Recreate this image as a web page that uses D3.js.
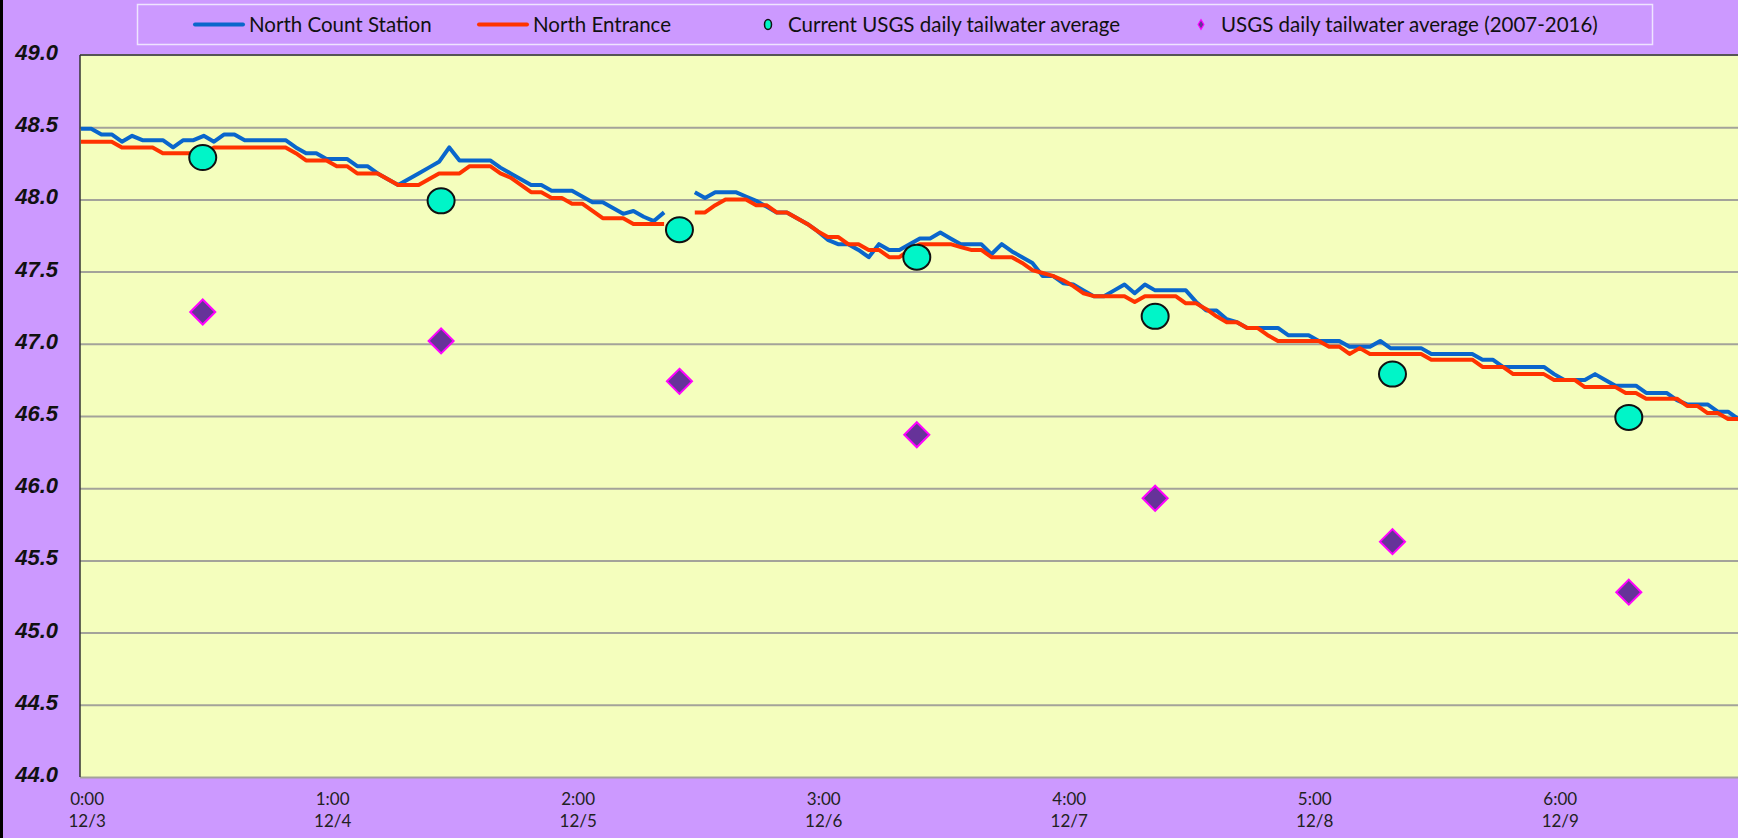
<!DOCTYPE html>
<html>
<head>
<meta charset="utf-8">
<script src="https://cdn.jsdelivr.net/npm/d3@7"></script>
<style>
  html, body { margin: 0; padding: 0; background: #cc99ff; overflow: hidden; }
  svg { display: block; }
</style>
</head>
<body>
<div id="chart-area"></div>
<script>
/*
*    tailwater chart
*/

// hourly readings, index = hours since 0:00 12/3 (null = missing)
var northCount = [
    48.49, 48.49, 48.45, 48.45, 48.40, 48.44, 48.41, 48.41, 48.41, 48.36,
    48.41, 48.41, 48.44, 48.40, 48.45, 48.45, 48.41, 48.41, 48.41, 48.41,
    48.41, 48.36, 48.32, 48.32, 48.28, 48.28, 48.28, 48.23, 48.23, 48.18,
    48.14, 48.10, 48.14, 48.18, 48.22, 48.26, 48.36, 48.27, 48.27, 48.27,
    48.27, 48.22, 48.18, 48.14, 48.10, 48.10, 48.06, 48.06, 48.06, 48.02,
    47.98, 47.98, 47.94, 47.90, 47.92, 47.88, 47.85, 47.91, null, null,
    48.05, 48.01, 48.05, 48.05, 48.05, 48.02, 47.99, 47.95, 47.91, 47.91,
    47.87, 47.83, 47.78, 47.72, 47.69, 47.69, 47.65, 47.60, 47.69, 47.65,
    47.65, 47.69, 47.73, 47.73, 47.77, 47.73, 47.69, 47.69, 47.69, 47.62,
    47.69, 47.64, 47.60, 47.56, 47.47, 47.47, 47.42, 47.41, 47.37, 47.33,
    47.33, 47.37, 47.41, 47.35, 47.41, 47.37, 47.37, 47.37, 47.37, 47.29,
    47.23, 47.23, 47.17, 47.15, 47.11, 47.11, 47.11, 47.11, 47.06, 47.06,
    47.06, 47.02, 47.02, 47.02, 46.98, 46.98, 46.98, 47.02, 46.97, 46.97,
    46.97, 46.97, 46.93, 46.93, 46.93, 46.93, 46.93, 46.89, 46.89, 46.84,
    46.84, 46.84, 46.84, 46.84, 46.79, 46.75, 46.75, 46.75, 46.79, 46.75,
    46.71, 46.71, 46.71, 46.66, 46.66, 46.66, 46.61, 46.58, 46.58, 46.58,
    46.53, 46.53, 46.48, 46.45
];

var northEntrance = [
    48.40, 48.40, 48.40, 48.40, 48.36, 48.36, 48.36, 48.36, 48.32, 48.32,
    48.32, 48.32, 48.32, 48.36, 48.36, 48.36, 48.36, 48.36, 48.36, 48.36,
    48.36, 48.32, 48.27, 48.27, 48.27, 48.23, 48.23, 48.18, 48.18, 48.18,
    48.14, 48.10, 48.10, 48.10, 48.14, 48.18, 48.18, 48.18, 48.23, 48.23,
    48.23, 48.18, 48.15, 48.10, 48.05, 48.05, 48.01, 48.01, 47.97, 47.97,
    47.92, 47.87, 47.87, 47.87, 47.83, 47.83, 47.83, 47.83, null, null,
    47.91, 47.91, 47.96, 48.00, 48.00, 48.00, 47.96, 47.96, 47.91, 47.91,
    47.87, 47.83, 47.78, 47.74, 47.74, 47.69, 47.69, 47.65, 47.65, 47.60,
    47.60, 47.65, 47.69, 47.69, 47.69, 47.69, 47.67, 47.65, 47.65, 47.60,
    47.60, 47.60, 47.56, 47.51, 47.49, 47.47, 47.44, 47.40, 47.35, 47.33,
    47.33, 47.33, 47.33, 47.29, 47.33, 47.33, 47.33, 47.33, 47.28, 47.28,
    47.24, 47.19, 47.15, 47.15, 47.11, 47.11, 47.06, 47.02, 47.02, 47.02,
    47.02, 47.02, 46.98, 46.98, 46.93, 46.97, 46.93, 46.93, 46.93, 46.93,
    46.93, 46.93, 46.89, 46.89, 46.89, 46.89, 46.89, 46.84, 46.84, 46.84,
    46.79, 46.79, 46.79, 46.79, 46.75, 46.75, 46.75, 46.70, 46.70, 46.70,
    46.70, 46.66, 46.66, 46.62, 46.62, 46.62, 46.62, 46.57, 46.57, 46.52,
    46.52, 46.48, 46.48, 46.43
];

// daily averages (hour position of each point)
var dailyHour = [11.9, 35.2, 58.5, 81.7, 105.0, 128.2, 151.3];
var currentUSGS = [48.29, 47.99, 47.79, 47.60, 47.19, 46.79, 46.49];
var avgUSGS = [47.22, 47.02, 46.74, 46.37, 45.93, 45.63, 45.28];

var timeLabels = ["0:00", "1:00", "2:00", "3:00", "4:00", "5:00", "6:00"];
var dateLabels = ["12/3", "12/4", "12/5", "12/6", "12/7", "12/8", "12/9"];
var yTicks = [44.0, 44.5, 45.0, 45.5, 46.0, 46.5, 47.0, 47.5, 48.0, 48.5, 49.0];

var W = 1738, H = 838;
var plot = {left: 80, top: 55, bottom: 777};

var svg = d3.select("#chart-area")
  .append("svg")
    .attr("width", W)
    .attr("height", H);

svg.append("rect")
    .attr("width", W).attr("height", H)
    .attr("fill", "#cc99ff");

// left frame edge
svg.append("rect")
    .attr("x", 0).attr("y", 0)
    .attr("width", 3).attr("height", H)
    .attr("fill", "#000");

var x = d3.scaleLinear()
    .domain([0, 168])
    .range([81, 81 + 168 * 10.23]);

var y = d3.scaleLinear()
    .domain([44, 49])
    .range([plot.bottom, plot.top]);

// plot area
svg.append("rect")
    .attr("x", plot.left)
    .attr("y", plot.top)
    .attr("width", W - plot.left + 5)
    .attr("height", plot.bottom - plot.top)
    .attr("fill", "#f4febd");

// gridlines
var yGrid = d3.axisLeft(y)
    .tickValues(yTicks.slice(0, -1))
    .tickSize(-(W - plot.left + 5))
    .tickFormat("");
svg.append("g")
    .attr("class", "grid")
    .attr("transform", "translate(" + plot.left + ",0)")
    .call(yGrid)
    .call(g => g.select(".domain").remove())
    .selectAll("line")
        .attr("stroke", "#a3a39a")
        .attr("stroke-width", 2);

svg.append("line")
    .attr("x1", plot.left).attr("x2", W)
    .attr("y1", plot.top).attr("y2", plot.top)
    .attr("stroke", "#555").attr("stroke-width", 2);
svg.append("line")
    .attr("x1", plot.left).attr("x2", plot.left)
    .attr("y1", plot.top).attr("y2", plot.bottom)
    .attr("stroke", "#333").attr("stroke-width", 1.5);

// y labels
var yAxisCall = d3.axisLeft(y)
    .tickValues(yTicks)
    .tickSize(0)
    .tickPadding(22)
    .tickFormat(d3.format(".1f"));
svg.append("g")
    .attr("class", "left axis")
    .attr("transform", "translate(" + plot.left + ",0)")
    .call(yAxisCall)
    .call(g => g.select(".domain").remove())
    .selectAll("text")
        .attr("font-family", "'Liberation Sans', Arial, sans-serif")
        .attr("font-size", "22px")
        .attr("font-weight", "bold")
        .attr("font-style", "italic")
        .attr("fill", "#111")
        .attr("dy", "0.2em");

// x labels (one per day)
var xLab = svg.append("g").attr("class", "bottom axis");
timeLabels.forEach((t, i) => {
    var tx = x(i * 24 + 0.6);
    var txt = xLab.append("text")
        .attr("x", tx)
        .attr("text-anchor", "middle")
        .attr("font-family", "Lato, 'Open Sans', sans-serif")
        .attr("font-size", "17px")
        .attr("fill", "#222");
    txt.append("tspan").attr("x", tx).attr("y", 805).text(t);
    txt.append("tspan").attr("x", tx).attr("y", 827).text(dateLabels[i]);
});

var line = d3.line()
    .defined(d => d != null)
    .x((d, i) => x(i))
    .y(d => y(d));

svg.append("path")
    .datum(northCount)
    .attr("fill", "none")
    .attr("stroke", "#0a66cc")
    .attr("stroke-width", 4)
    .attr("stroke-linejoin", "round")
    .attr("d", line);

svg.append("path")
    .datum(northEntrance)
    .attr("fill", "none")
    .attr("stroke", "#ff3300")
    .attr("stroke-width", 4)
    .attr("stroke-linejoin", "round")
    .attr("d", line);

svg.selectAll(".usgs-cur")
    .data(currentUSGS)
  .enter().append("ellipse")
    .attr("class", "usgs-cur")
    .attr("cx", (d, i) => x(dailyHour[i]))
    .attr("cy", d => y(d))
    .attr("rx", 13.5)
    .attr("ry", 12.5)
    .attr("fill", "#00f5c8")
    .attr("stroke", "#111")
    .attr("stroke-width", 2);

var diamond = d3.symbol().type(d3.symbolDiamond2).size(400);
svg.selectAll(".usgs-avg")
    .data(avgUSGS)
  .enter().append("path")
    .attr("class", "usgs-avg")
    .attr("transform", (d, i) => "translate(" + x(dailyHour[i]) + "," + y(d) + ")")
    .attr("d", diamond)
    .attr("fill", "#663399")
    .attr("stroke", "#ff00ff")
    .attr("stroke-width", 2);

// legend
var legend = svg.append("g").attr("class", "legend");
legend.append("rect")
    .attr("x", 137.5).attr("y", 4.5)
    .attr("width", 1515).attr("height", 40)
    .attr("fill", "#cc99ff")
    .attr("stroke", "#eee4ff")
    .attr("stroke-width", 1.5);

var ly = 24.5;
var legendItems = [
    {label: "North Count Station", kind: "line", color: "#0a66cc", x: 195},
    {label: "North Entrance", kind: "line", color: "#ff3300", x: 479},
    {label: "Current USGS daily tailwater average", kind: "circle", x: 760},
    {label: "USGS daily tailwater average (2007-2016)", kind: "diamond", x: 1193}
];
legendItems.forEach((it) => {
    var tx;
    if (it.kind === "line") {
        legend.append("line")
            .attr("x1", it.x).attr("x2", it.x + 48)
            .attr("y1", ly).attr("y2", ly)
            .attr("stroke", it.color)
            .attr("stroke-width", 4)
            .attr("stroke-linecap", "round");
        tx = it.x + 54;
    } else if (it.kind === "circle") {
        legend.append("ellipse")
            .attr("cx", it.x + 8).attr("cy", ly)
            .attr("rx", 3.5).attr("ry", 5)
            .attr("fill", "#00f5c8")
            .attr("stroke", "#111")
            .attr("stroke-width", 1.5);
        tx = it.x + 28;
    } else {
        legend.append("path")
            .attr("transform", "translate(" + (it.x + 8) + "," + ly + ") scale(0.6,1)")
            .attr("d", d3.symbol().type(d3.symbolDiamond2).size(60))
            .attr("fill", "#663399")
            .attr("stroke", "#ff00ff")
            .attr("stroke-width", 1.5);
        tx = it.x + 28;
    }
    legend.append("text")
        .attr("x", tx)
        .attr("y", ly)
        .attr("dy", "0.35em")
        .attr("font-family", "Lato, 'Open Sans', sans-serif")
        .attr("font-size", "20.5px")
        .attr("fill", "#111")
        .text(it.label);
});
</script>
</body>
</html>
